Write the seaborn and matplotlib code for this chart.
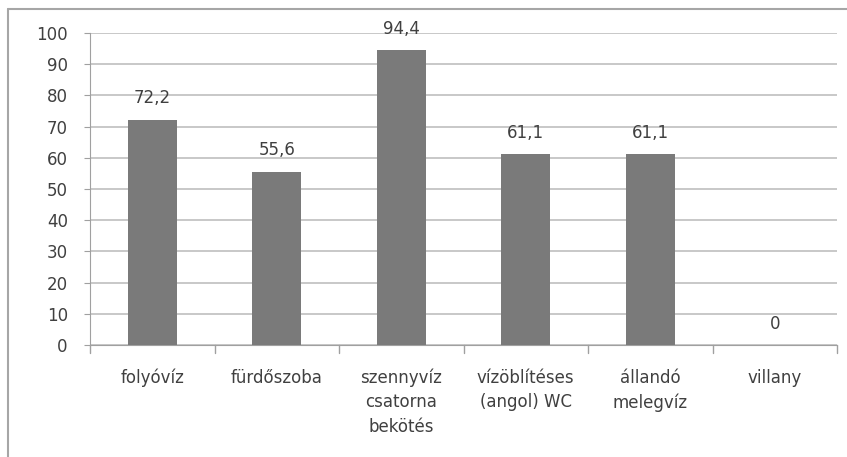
import matplotlib
matplotlib.use("Agg")
import matplotlib.pyplot as plt
import seaborn as sns
import pandas as pd
from matplotlib.lines import Line2D

categories = ["folyóvíz", "fürdőszoba", "szennyvíz\ncsatorna\nbekötés",
              "vízöblítéses\n(angol) WC", "állandó\nmelegvíz", "villany"]
values = [72.2, 55.6, 94.4, 61.1, 61.1, 0]
value_labels = ["72,2", "55,6", "94,4", "61,1", "61,1", "0"]
yticks = [0, 10, 20, 30, 40, 50, 60, 70, 80, 90, 100]

sns.set_style("white")
plt.rcParams['font.family'] = ['DejaVu Sans']

df = pd.DataFrame({"cat": categories, "val": values})

fig = plt.figure(figsize=(8.47, 4.57), dpi=100)
ax = fig.add_axes([90/847, 1-345/457, (837-90)/847, (345-33)/457])

sns.barplot(data=df, x="cat", y="val", color="#7a7a7a", saturation=1,
            width=0.39, ax=ax, zorder=3, linewidth=0, edgecolor="none")

ax.set_ylim(0, 100)
ax.set_xlim(-0.5, len(categories)-0.5)
ax.set_yticks(yticks)
ax.set_yticklabels([str(t) for t in yticks], fontsize=12, color="#404040")
ax.yaxis.grid(True, color="#bfbfbf", linewidth=1.2, zorder=0)
ax.set_axisbelow(True)
ax.tick_params(axis="y", length=4, color="#a0a0a0", pad=12, left=True)
ax.set_xlabel("")
ax.set_ylabel("")

for s in ["top", "right"]:
    ax.spines[s].set_visible(False)
ax.spines["left"].set_color("#a0a0a0")
ax.spines["bottom"].set_color("#a0a0a0")

ax.set_xticks([i for i in range(len(categories))])
ax.set_xticklabels(categories, fontsize=12, color="#404040", linespacing=1.45, va="top")
ax.tick_params(axis="x", length=0, pad=17)
for b in range(len(categories)+1):
    ax.plot([b-0.5, b-0.5], [0, -2.5], color="#a0a0a0", lw=1, clip_on=False)

for i, (v, lab) in enumerate(zip(values, value_labels)):
    ax.text(i, v + 4, lab, ha="center", va="bottom", fontsize=12, color="#404040")

fig.add_artist(Line2D([8/847, 8/847], [0, 1-9/457], transform=fig.transFigure, color="#a6a6a6", lw=1.5))
fig.add_artist(Line2D([8/847, 1], [1-9/457, 1-9/457], transform=fig.transFigure, color="#a6a6a6", lw=1.5))

fig.savefig("out.png", dpi=100)
